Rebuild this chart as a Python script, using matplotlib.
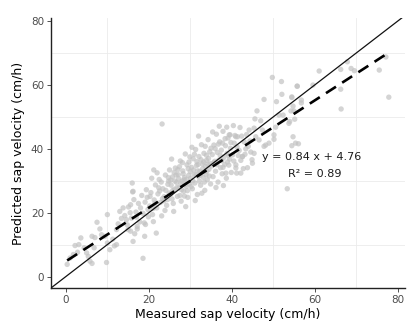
import numpy as np
import matplotlib
matplotlib.use("Agg")
import matplotlib.pyplot as plt

# measured (x) vs predicted (y) sap velocity
sparse_low = [
    (0.3, 3.8), (1.0, 5.8), (1.8, 6.9), (2.8, 7.6), (2.2, 9.7), (3.1, 10.0),
    (3.6, 12.1), (4.4, 9.0), (5.0, 7.4), (5.4, 6.3), (5.8, 4.8), (6.3, 4.1),
    (6.8, 9.0), (6.3, 12.6), (7.0, 12.2), (7.5, 17.0), (8.2, 14.9), (8.6, 13.1),
    (9.4, 12.6), (9.8, 4.4), (10.0, 19.4), (10.0, 10.5), (10.6, 8.4),
    (11.3, 11.7), (11.7, 9.6), (12.2, 10.0), (12.2, 14.7), (12.6, 16.5),
    (13.0, 20.4), (13.4, 18.2), (13.8, 21.5), (14.2, 19.1), (14.6, 17.8),
    (15.0, 14.7), (15.6, 22.5), (15.6, 14.2), (16.2, 11.0), (16.6, 13.4),
    (17.2, 15.7), (18.6, 5.7), (19.0, 12.6), (19.2, 16.3), (16.2, 26.7),
    (16.0, 29.3), (21.8, 13.6), (21.2, 33.4), (23.2, 47.8),
]
cloud = [
    (14.8, 16.2), (15.1, 21.8), (15.8, 18.3), (16.4, 24.1), (16.9, 20.2),
    (17.5, 22.9), (17.8, 17.1), (18.3, 25.4), (18.6, 19.8), (19.1, 23.3),
    (19.4, 27.2), (19.8, 21.0), (16.1, 26.5), (17.2, 14.9), (18.9, 16.8),
    (19.6, 24.8), (20.2, 22.1), (20.5, 26.3), (20.9, 19.4), (21.3, 24.0),
    (21.6, 28.7), (21.9, 21.5), (22.2, 25.9), (22.5, 30.4), (22.8, 23.2),
    (23.1, 19.0), (23.4, 27.5), (23.7, 25.0), (24.0, 31.8), (24.3, 22.3),
    (24.6, 28.9), (24.9, 26.2), (20.7, 30.8), (21.1, 17.2), (22.0, 32.5),
    (23.0, 29.6), (23.9, 20.7), (24.5, 24.1), (25.0, 33.4), (22.4, 27.8),
    (21.5, 23.0), (20.3, 25.1), (23.6, 23.7), (24.8, 29.9), (25.2, 25.8),
    (25.4, 28.6), (25.7, 31.2), (25.9, 22.9), (26.2, 27.3), (26.4, 34.0),
    (26.7, 29.5), (26.9, 25.1), (27.1, 31.9), (27.3, 27.8), (27.6, 36.2),
    (27.8, 23.6), (28.0, 29.9), (28.2, 33.1), (28.4, 26.7), (28.6, 31.0),
    (28.8, 38.4), (29.0, 28.2), (29.2, 35.0), (29.4, 24.8), (29.6, 31.7),
    (29.8, 29.0), (25.5, 36.8), (26.0, 20.4), (26.6, 31.8), (27.0, 33.5),
    (27.5, 25.4), (28.1, 35.7), (28.9, 21.9), (29.5, 33.8), (29.9, 37.5),
    (26.3, 29.9), (27.9, 27.2), (28.5, 30.3), (29.3, 26.9), (25.8, 27.0),
    (27.2, 30.6), (28.7, 28.8), (30.1, 30.8), (30.3, 34.2), (30.5, 27.5),
    (30.7, 36.9), (30.9, 32.0), (31.1, 29.3), (31.3, 39.8), (31.5, 34.8),
    (31.7, 25.7), (31.9, 31.4), (32.1, 37.6), (32.3, 33.0), (32.5, 28.6),
    (32.7, 41.3), (32.9, 35.3), (33.1, 31.1), (33.3, 38.6), (33.5, 27.0),
    (33.7, 34.5), (33.9, 36.4), (34.1, 30.3), (34.3, 42.9), (34.5, 33.6),
    (34.7, 39.1), (34.9, 29.0), (30.4, 40.5), (31.2, 23.8), (32.0, 44.0),
    (32.8, 26.1), (33.6, 40.8), (34.4, 37.0), (30.8, 33.4), (31.6, 36.0),
    (32.4, 31.7), (33.2, 35.9), (34.0, 33.0), (34.8, 35.4), (30.2, 28.2),
    (31.8, 33.1), (33.8, 31.9), (35.1, 34.6), (35.3, 38.2), (35.5, 31.3),
    (35.7, 41.2), (35.9, 36.1), (36.1, 33.0), (36.3, 44.6), (36.5, 38.9),
    (36.7, 29.6), (36.9, 36.5), (37.1, 42.2), (37.3, 34.1), (37.5, 39.6),
    (37.7, 32.2), (37.9, 45.5), (38.1, 37.3), (38.3, 35.1), (38.5, 41.0),
    (38.7, 30.8), (38.9, 38.6), (39.1, 43.4), (39.3, 34.9), (39.5, 36.8),
    (39.7, 40.2), (39.9, 32.6), (35.4, 45.3), (36.2, 27.9), (37.0, 47.1),
    (38.0, 28.5), (38.8, 46.8), (39.6, 44.4), (36.0, 40.1), (37.6, 36.3),
    (39.2, 37.9), (40.2, 38.1), (40.6, 41.8), (41.0, 35.0), (41.4, 43.8),
    (41.8, 39.5), (42.2, 36.4), (42.6, 37.6), (43.0, 42.2), (43.4, 40.0),
    (43.8, 34.1), (44.2, 45.9), (44.6, 39.0), (40.4, 47.3), (41.2, 32.4),
    (42.0, 46.7), (42.8, 33.8), (43.6, 44.5), (44.4, 42.5), (40.8, 44.2),
    (41.6, 37.9), (44.9, 36.6), (39.4, 44.4), (41.0, 43.8), (37.8, 41.8),
    (38.6, 32.4), (42.2, 32.4), (41.0, 34.0), (45.0, 35.5), (42.6, 37.6),
    # second pass over the densest part of the cloud
    (22.6, 26.8), (23.3, 24.4), (24.1, 27.0), (24.7, 31.0), (25.3, 30.2),
    (25.6, 24.3), (26.1, 32.6), (26.8, 27.9), (27.4, 34.4), (27.7, 29.1),
    (28.3, 32.2), (28.6, 25.2), (29.1, 30.4), (29.7, 35.9), (30.0, 32.9),
    (30.6, 30.0), (31.0, 38.3), (31.4, 31.9), (31.9, 35.1), (32.2, 29.9),
    (32.6, 36.6), (33.0, 33.8), (33.4, 29.6), (33.9, 38.0), (34.2, 35.2),
    (34.6, 31.5), (35.0, 40.2), (35.6, 35.6), (36.4, 35.0), (36.8, 41.5),
    (37.2, 38.0), (37.9, 34.2), (38.4, 43.2), (39.0, 35.9), (39.8, 42.0),
    (40.5, 36.2), (41.3, 40.6), (42.4, 44.0), (43.2, 38.3), (44.0, 40.8),
    (21.0, 21.3), (19.9, 18.7), (18.0, 21.5), (17.0, 18.6), (15.5, 20.0),
]
sparse_high = [
    (45.4, 38.6), (45.8, 43.8), (46.6, 42.8), (47.0, 48.8), (47.4, 45.9),
    (47.8, 40.8), (48.2, 41.2), (49.0, 41.8), (50.2, 43.0), (45.6, 49.4),
    (45.4, 46.5), (46.1, 51.9), (47.8, 55.5), (49.8, 62.4), (52.0, 61.1),
    (55.8, 59.6), (52.1, 57.1), (50.8, 54.8), (54.5, 56.1), (56.8, 55.3),
    (54.8, 53.4), (51.4, 50.6), (52.4, 50.6), (54.3, 51.9), (55.2, 49.3),
    (53.8, 48.0), (50.6, 46.8), (50.2, 44.4), (54.8, 43.8), (55.4, 41.8),
    (56.1, 41.6), (54.5, 41.0), (53.4, 27.5), (54.0, 48.6), (61.1, 64.4),
    (66.3, 64.9), (66.3, 58.7), (67.9, 67.3), (68.8, 65.2), (69.6, 64.5),
    (75.6, 64.7), (77.2, 68.8), (77.9, 56.2), (66.4, 52.5), (59.6, 60.0),
    (55.8, 59.7), (54.5, 56.3), (56.8, 54.4), (55.0, 51.9),
]

slope = 0.84
intercept = 4.76
r2 = 0.89

pts = np.array(sparse_low + cloud + sparse_high)
measured = pts[:, 0]
predicted = pts[:, 1]

fig = plt.figure(figsize=(4.07, 3.26), dpi=100)
ax = fig.add_axes([0.1253, 0.1166, 0.8697, 0.828])

ax.scatter(measured, predicted, s=15, color="#c2c2c2", alpha=0.7,
           edgecolors="none", zorder=2)

xlim = (-3.6, 81.8)
ylim = (-3.6, 81.0)
ax.plot(xlim, xlim, color="#111111", linewidth=0.9, zorder=3)
fx = np.array([measured.min(), measured.max()])
ax.plot(fx, slope * fx + intercept, color="black", linewidth=1.9,
        linestyle=(0, (4.5, 2.8)), zorder=4)

ax.text(59.4, 37.5, f"y = {slope} x + {intercept}", ha="center", va="center",
        fontsize=8, color="#1a1a1a", zorder=5)
ax.text(60.1, 32.2, f"R\u00b2 = {r2}", ha="center", va="center",
        fontsize=8, color="#1a1a1a", zorder=5)

ax.set_xlim(*xlim)
ax.set_ylim(*ylim)
ax.set_xticks([0, 20, 40, 60, 80])
ax.set_yticks([0, 20, 40, 60, 80])
ax.set_xticks([10, 30, 50, 70], minor=True)
ax.set_yticks([10, 30, 50, 70], minor=True)
ax.grid(which="minor", color="#ebebeb", linewidth=0.6, zorder=0)
ax.grid(which="major", visible=False)
ax.set_axisbelow(True)

for s in ["top", "right"]:
    ax.spines[s].set_visible(False)
for s in ["left", "bottom"]:
    ax.spines[s].set_color("#222222")
    ax.spines[s].set_linewidth(1.0)

ax.tick_params(which="major", length=3, width=0.6, color="#333333",
               labelcolor="#4d4d4d", labelsize=7.5, pad=2)
ax.tick_params(which="minor", length=0)

ax.set_xlabel("Measured sap velocity (cm/h)", fontsize=9, color="black", labelpad=2)
ax.set_ylabel("Predicted sap velocity (cm/h)", fontsize=9, color="black", labelpad=4)

fig.savefig("out.png", dpi=100)
